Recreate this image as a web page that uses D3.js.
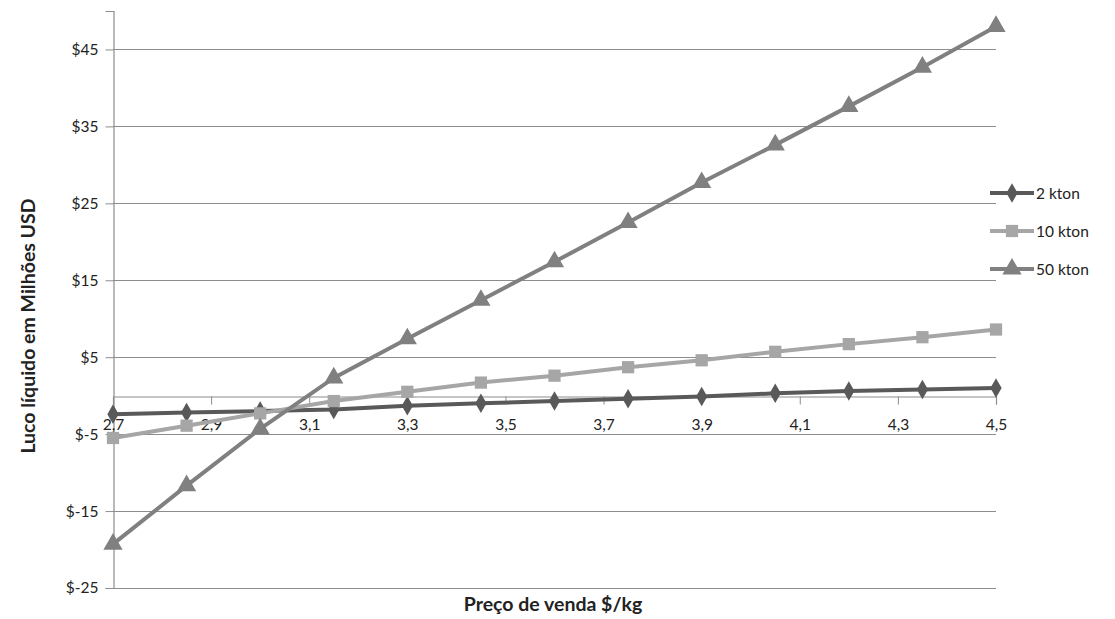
<!DOCTYPE html>
<html><head><meta charset="utf-8">
<script src="https://cdn.jsdelivr.net/npm/d3@7"></script>
<style>body{margin:0;background:#fff}svg{display:block}text{font-family:Lato,"Open Sans",sans-serif}</style>
</head><body><svg id="c" width="1115" height="619"></svg>
<script>
const xValues = [2.7, 2.85, 3.0, 3.15, 3.3, 3.45, 3.6, 3.75, 3.9, 4.05, 4.2, 4.35, 4.5];
const kton2  = [-2.4, -2.2, -2.0, -1.8, -1.3, -1.0, -0.7, -0.4, -0.1, 0.3, 0.6, 0.8, 1.0];
const kton10 = [-5.5, -3.9, -2.3, -0.7, 0.5, 1.7, 2.6, 3.7, 4.6, 5.7, 6.7, 7.6, 8.6];
const kton50 = [-19.3, -11.7, -4.3, 2.3, 7.4, 12.4, 17.4, 22.5, 27.7, 32.6, 37.6, 42.7, 48.0];
const seriesNames = ["2 kton", "10 kton", "50 kton"];
const xTicks = [2.7, 2.9, 3.1, 3.3, 3.5, 3.7, 3.9, 4.1, 4.3, 4.5];
const yTicks = [-25, -15, -5, 5, 15, 25, 35, 45];

const series = [
  {name: seriesNames[0], values: kton2, color: "#595959", sym: d3.symbolDiamond, size: 110},
  {name: seriesNames[1], values: kton10, color: "#a6a6a6", sym: d3.symbolSquare, size: 150},
  {name: seriesNames[2], values: kton50, color: "#808080", sym: d3.symbolTriangle, size: 160}
];

const svg = d3.select("#c");
const pLeft = 113, pRight = 996, pTop = 11, pBottom = 588;
const x = d3.scaleLinear().domain([2.7, 4.5]).range([pLeft, pRight]);
const y = d3.scaleLinear().domain([-25, 50]).range([pBottom, pTop]);

// gridlines
svg.append("g").selectAll("line").data(yTicks).join("line")
  .attr("x1", pLeft).attr("x2", pRight)
  .attr("y1", d => Math.round(y(d)) + 0.5).attr("y2", d => Math.round(y(d)) + 0.5)
  .attr("stroke", "#8c8c8c").attr("stroke-width", 1.2);

// y axis
const yAxis = svg.append("g").attr("transform", `translate(${pLeft + 0.5},0)`)
  .call(d3.axisLeft(y).tickValues(yTicks).tickSize(8).tickPadding(6).tickFormat(d => "$" + d));
yAxis.select(".domain").attr("stroke", "#8c8c8c").attr("stroke-width", 1.2);
yAxis.selectAll(".tick line").attr("stroke", "#8c8c8c");
yAxis.selectAll("text").attr("font-size", 15.5).attr("fill", "#222").attr("dx", -1);

// x axis at y=0
const xAxis = svg.append("g").attr("transform", `translate(0,${Math.round(y(0)) + 0.5})`)
  .call(d3.axisBottom(x).tickValues(xTicks).tickSize(8).tickPadding(14)
    .tickFormat(d => d3.format(".1f")(d).replace(".", ",")));
xAxis.select(".domain").attr("stroke", "#8c8c8c").attr("stroke-width", 1.2);
xAxis.selectAll(".tick line").attr("stroke", "#8c8c8c");
xAxis.selectAll("text").attr("font-size", 15.5).attr("fill", "#222");

// lines and markers
const line = d3.line().x((d, i) => x(xValues[i])).y(d => y(d));
series.forEach(s => {
  svg.append("path").datum(s.values).attr("d", line)
    .attr("fill", "none").attr("stroke", s.color).attr("stroke-width", 4);
  svg.append("g").selectAll("path").data(s.values).join("path")
    .attr("transform", (d, i) => `translate(${x(xValues[i])},${y(d)})`)
    .attr("d", d3.symbol().type(s.sym).size(s.size))
    .attr("fill", s.color);
});

// legend
const lg = svg.append("g");
series.forEach((s, i) => {
  const yy = 193 + i * 38;
  lg.append("line").attr("x1", 990).attr("x2", 1034).attr("y1", yy).attr("y2", yy)
    .attr("stroke", s.color).attr("stroke-width", 4);
  lg.append("path").attr("transform", `translate(1012,${yy})`)
    .attr("d", d3.symbol().type(s.sym).size(s.size)).attr("fill", s.color);
  lg.append("text").attr("x", 1036).attr("y", yy + 5.5).attr("font-size", 15.5)
    .attr("fill", "#222").text(s.name);
});

// titles
svg.append("text").attr("x", 553).attr("y", 611).attr("text-anchor", "middle")
  .attr("font-size", 19.5).attr("font-weight", "bold").attr("fill", "#222")
  .text("Preço de venda $/kg");
svg.append("text").attr("transform", "translate(35,326) rotate(-90)")
  .attr("text-anchor", "middle").attr("font-size", 19.5).attr("font-weight", "bold").attr("fill", "#222")
  .text("Luco líquido em Milhões USD");
</script></body></html>
